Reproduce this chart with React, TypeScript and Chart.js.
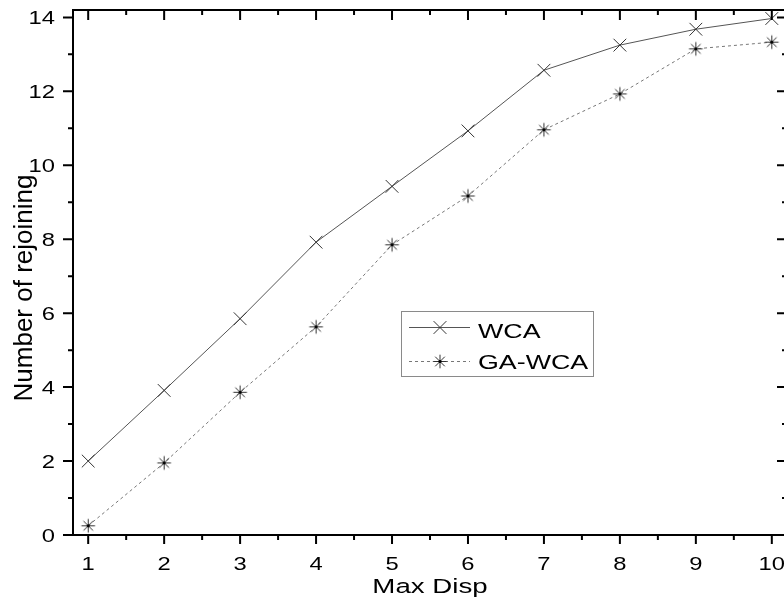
import React, { useEffect, useRef } from "react";
import { Chart, registerables } from "chart.js";

Chart.register(...registerables);

const xValues = [1, 2, 3, 4, 5, 6, 7, 8, 9, 10];
const wcaValues = [2.0, 3.91, 5.85, 7.92, 9.43, 10.93, 12.57, 13.25, 13.68, 13.97];
const gaWcaValues = [0.25, 1.95, 3.86, 5.63, 7.85, 9.17, 10.96, 11.93, 13.15, 13.33];
const xTickValues = [1, 2, 3, 4, 5, 6, 7, 8, 9, 10];
const xTickLabels = ["1", "2", "3", "4", "5", "6", "7", "8", "9", "10"];
const yTickValues = [0, 2, 4, 6, 8, 10, 12, 14];
const yTickLabels = ["0", "2", "4", "6", "8", "10", "12", "14"];
const seriesNames = ["WCA", "GA-WCA"];
const xTitle = "Max Disp";
const yTitle = "Number of rejoining";

const FONT = "'Liberation Sans', Arial, sans-serif";

function makeStar(): HTMLCanvasElement {
  const c = document.createElement("canvas");
  c.width = 17;
  c.height = 17;
  const g = c.getContext("2d")!;
  const cx = 8.5, cy = 8.5, r = 6.8;
  g.strokeStyle = "#333";
  g.lineWidth = 1;
  g.beginPath();
  for (let i = 0; i < 4; i++) {
    const a = (i * Math.PI) / 4;
    g.moveTo(cx - r * Math.cos(a), cy - r * Math.sin(a));
    g.lineTo(cx + r * Math.cos(a), cy + r * Math.sin(a));
  }
  g.stroke();
  g.fillStyle = "#000";
  g.beginPath();
  g.arc(cx, cy, 1.6, 0, Math.PI * 2);
  g.fill();
  return c;
}

function stretchedText(ctx: CanvasRenderingContext2D, text: string, x: number, y: number, align: CanvasTextAlign, size: number, sx: number) {
  ctx.save();
  ctx.translate(x, y);
  ctx.scale(sx, 1);
  ctx.font = `${size}px ${FONT}`;
  ctx.textAlign = align;
  ctx.textBaseline = "alphabetic";
  ctx.fillStyle = "#000";
  ctx.fillText(text, 0, 0);
  ctx.restore();
}

export default function App() {
  const ref = useRef<HTMLCanvasElement>(null);

  useEffect(() => {
    const canvas = ref.current!;
    const star = makeStar();

    const framePlugin = {
      id: "originFrame",
      afterDraw(chart: any) {
        const ctx: CanvasRenderingContext2D = chart.ctx;
        const { left, right, top, bottom } = chart.chartArea;
        const xs = chart.scales.x;
        const ys = chart.scales.y;
        ctx.save();
        ctx.strokeStyle = "#000";
        ctx.lineWidth = 2;
        ctx.strokeRect(left, top, right - left, bottom - top);
        ctx.beginPath();
        for (let v = 1; v <= 10; v += 0.5) {
          const px = xs.getPixelForValue(v);
          const major = Number.isInteger(v);
          const lb = major ? 9 : 5;
          const lt = major ? 10 : 5;
          ctx.moveTo(px, bottom);
          ctx.lineTo(px, bottom + lb);
          ctx.moveTo(px, top);
          ctx.lineTo(px, top + lt);
        }
        for (let v = 0; v <= 14; v += 1) {
          const py = ys.getPixelForValue(v);
          const major = v % 2 === 0;
          const l = major ? 10 : 5;
          ctx.moveTo(left, py);
          ctx.lineTo(left - l, py);
          ctx.moveTo(right, py);
          ctx.lineTo(right - l, py);
        }
        ctx.stroke();

        xTickValues.forEach((v, i) => {
          stretchedText(ctx, xTickLabels[i], xs.getPixelForValue(v), 570, "center", 19, 1.25);
        });
        yTickValues.forEach((v, i) => {
          stretchedText(ctx, yTickLabels[i], 55, ys.getPixelForValue(v) + 7, "right", 19, 1.25);
        });

        stretchedText(ctx, xTitle, 430, 593, "center", 20.5, 1.35);
        ctx.save();
        ctx.translate(32, 288);
        ctx.rotate(-Math.PI / 2);
        ctx.font = `26px ${FONT}`;
        ctx.textAlign = "center";
        ctx.textBaseline = "alphabetic";
        ctx.fillStyle = "#000";
        ctx.fillText(yTitle, 0, 0);
        ctx.restore();

        ctx.strokeStyle = "#8a8a8a";
        ctx.lineWidth = 1;
        ctx.strokeRect(401.5, 311.5, 192, 65);
        ctx.strokeStyle = "#555";
        ctx.beginPath();
        ctx.moveTo(409, 327.5);
        ctx.lineTo(470, 327.5);
        ctx.stroke();
        ctx.strokeStyle = "#333";
        ctx.beginPath();
        const m = 6.4;
        ctx.moveTo(440 - m, 327.5 - m);
        ctx.lineTo(440 + m, 327.5 + m);
        ctx.moveTo(440 - m, 327.5 + m);
        ctx.lineTo(440 + m, 327.5 - m);
        ctx.stroke();
        ctx.strokeStyle = "#777";
        ctx.setLineDash([3, 3]);
        ctx.beginPath();
        ctx.moveTo(409, 361.5);
        ctx.lineTo(470, 361.5);
        ctx.stroke();
        ctx.setLineDash([]);
        ctx.drawImage(star, 440 - 8.5, 361.5 - 8.5);
        stretchedText(ctx, seriesNames[0], 478, 337.5, "left", 20, 1.34);
        stretchedText(ctx, seriesNames[1], 478, 368.5, "left", 20, 1.34);
        ctx.restore();
      },
    };

    const chart = new Chart(canvas, {
      type: "line",
      data: {
        datasets: [
          {
            label: seriesNames[0],
            data: xValues.map((x, i) => ({ x, y: wcaValues[i] })),
            borderColor: "#555",
            borderWidth: 1,
            pointStyle: "crossRot",
            pointRadius: 9,
            pointBorderColor: "#333",
            pointBorderWidth: 1,
            pointBackgroundColor: "#333",
            tension: 0,
            fill: false,
          },
          {
            label: seriesNames[1],
            data: xValues.map((x, i) => ({ x, y: gaWcaValues[i] })),
            borderColor: "#777",
            borderWidth: 1,
            borderDash: [3, 3],
            pointStyle: star,
            pointRadius: 8,
            tension: 0,
            fill: false,
          },
        ],
      },
      options: {
        responsive: false,
        animation: false,
        devicePixelRatio: 1,
        layout: { padding: { left: 0, top: 7, right: 13, bottom: 0 } },
        plugins: { legend: { display: false }, tooltip: { enabled: false } },
        scales: {
          x: {
            type: "linear",
            min: 0.8,
            max: 10.2,
            grid: { display: false },
            border: { display: false },
            ticks: { display: false },
            afterBuildTicks: (s: any) => {
              s.ticks = xTickValues.map((v) => ({ value: v }));
            },
            afterFit: (s: any) => {
              s.height = 64;
            },
          },
          y: {
            type: "linear",
            min: 0,
            max: 14.2,
            grid: { display: false },
            border: { display: false },
            ticks: { display: false },
            afterBuildTicks: (s: any) => {
              s.ticks = yTickValues.map((v) => ({ value: v }));
            },
            afterFit: (s: any) => {
              s.width = 73;
            },
          },
        },
      },
      plugins: [framePlugin],
    } as any);

    return () => chart.destroy();
  }, []);

  return (
    <div style={{ position: "fixed", left: 0, top: 0, width: 784, height: 599, overflow: "hidden", background: "#fff" }}>
      <canvas ref={ref} width={800} height={599} style={{ width: 800, height: 599, display: "block" }} />
    </div>
  );
}
